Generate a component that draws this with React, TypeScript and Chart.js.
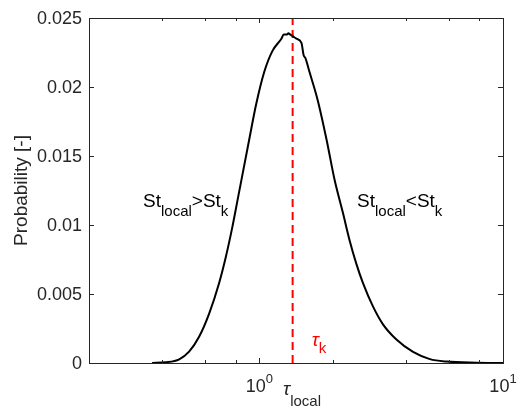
import React, { useEffect, useRef } from "react";
import { Chart, registerables } from "chart.js";

Chart.register(...registerables);

const tau = [0.363, 0.413, 0.469, 0.515, 0.566, 0.623, 0.684, 0.729, 0.776, 0.814, 0.909, 0.972, 1.048, 1.131, 1.232, 1.26, 1.3, 1.316, 1.34, 1.367, 1.42, 1.489, 1.52, 1.546, 1.606, 1.733, 1.887, 2.035, 2.202, 2.346, 2.5, 2.661, 2.926, 3.217, 3.653, 4.275, 5.01, 5.867, 7.79, 10.0];
const prob = [0.0, 0.00005, 0.00027, 0.00082, 0.0019, 0.0036, 0.0058, 0.0077, 0.0099, 0.0118, 0.0162, 0.0188, 0.0211, 0.0226, 0.0235, 0.0238, 0.0238, 0.0239, 0.0238, 0.0237, 0.0235, 0.0232, 0.0223, 0.0221, 0.0211, 0.0191, 0.0162, 0.0133, 0.0109, 0.0089, 0.0072, 0.0058, 0.0041, 0.0028, 0.0017, 0.0008, 0.00028, 0.0001, 0.00002, 0.0];
const tauK = 1.37;
const xMin = 0.2;
const xMax = 10;
const yMin = 0;
const yMax = 0.025;
const yStep = 0.005;
const yTickLabels = ["0", "0.005", "0.01", "0.015", "0.02", "0.025"];

const FONT = '"Liberation Sans", Arial, Helvetica, sans-serif';
const AXIS_COLOR = "#262626";

type Run = { t: string; size: number; dy: number; italic?: boolean };

function drawRuns(ctx: CanvasRenderingContext2D, runs: Run[], x: number, y: number, color: string, align: "left" | "center" = "left") {
  ctx.save();
  ctx.fillStyle = color;
  ctx.textBaseline = "alphabetic";
  ctx.textAlign = "left";
  let total = 0;
  for (const r of runs) {
    ctx.font = `${r.italic ? "italic " : ""}${r.size}px ${FONT}`;
    total += ctx.measureText(r.t).width;
  }
  let cx = align === "center" ? x - total / 2 : x;
  for (const r of runs) {
    ctx.font = `${r.italic ? "italic " : ""}${r.size}px ${FONT}`;
    ctx.fillText(r.t, cx, y + r.dy);
    cx += ctx.measureText(r.t).width;
  }
  ctx.restore();
}

const decorPlugin = {
  id: "decor",
  afterDatasetsDraw(chart: any) {
    const ctx: CanvasRenderingContext2D = chart.ctx;
    const { left, right, top, bottom } = chart.chartArea;
    const xs = chart.scales.x;
    const ys = chart.scales.y;
    ctx.save();
    ctx.strokeStyle = AXIS_COLOR;
    ctx.lineWidth = 1;
    ctx.strokeRect(Math.round(left) + 0.5, Math.round(top) + 0.5, Math.round(right - left), Math.round(bottom - top));
    ctx.beginPath();
    for (const t of xs.ticks) {
      const v = t.value;
      const lg = Math.log10(v);
      const major = Math.abs(lg - Math.round(lg)) < 1e-9;
      const len = major ? 5 : 3;
      const px = Math.round(xs.getPixelForValue(v)) + 0.5;
      ctx.moveTo(px, bottom);
      ctx.lineTo(px, bottom - len);
      ctx.moveTo(px, top);
      ctx.lineTo(px, top + len);
    }
    for (const t of ys.ticks) {
      const py = Math.round(ys.getPixelForValue(t.value)) + 0.5;
      ctx.moveTo(left, py);
      ctx.lineTo(left + 5, py);
      ctx.moveTo(right, py);
      ctx.lineTo(right - 5, py);
    }
    ctx.stroke();
    ctx.restore();

    ctx.save();
    ctx.fillStyle = AXIS_COLOR;
    ctx.font = `18px ${FONT}`;
    ctx.textAlign = "right";
    ctx.textBaseline = "middle";
    ys.ticks.forEach((t: any, i: number) => {
      const lab = yTickLabels[i] ?? String(t.value);
      ctx.fillText(lab, left - 7, ys.getPixelForValue(t.value) + 1);
    });
    ctx.restore();

    for (const t of xs.ticks) {
      const lg = Math.log10(t.value);
      if (Math.abs(lg - Math.round(lg)) < 1e-9) {
        const px = xs.getPixelForValue(t.value);
        drawRuns(ctx, [
          { t: "10", size: 18, dy: 0 },
          { t: String(Math.round(lg)), size: 13, dy: -9 },
        ], px, bottom + 29, AXIS_COLOR, "center");
      }
    }

    drawRuns(ctx, [
      { t: "τ", size: 19, dy: 0, italic: true },
      { t: "local", size: 15, dy: 11 },
    ], (left + right) / 2 + 6, bottom + 32, AXIS_COLOR, "center");

    ctx.save();
    ctx.translate(left - 67, (top + bottom) / 2);
    ctx.rotate(-Math.PI / 2);
    ctx.fillStyle = AXIS_COLOR;
    ctx.font = `19px ${FONT}`;
    ctx.textAlign = "center";
    ctx.textBaseline = "middle";
    ctx.fillText("Probability [-]", 0, 0);
    ctx.restore();

    drawRuns(ctx, [
      { t: "St", size: 19, dy: 0 },
      { t: "local", size: 15, dy: 9 },
      { t: ">St", size: 19, dy: 0 },
      { t: "k", size: 15, dy: 9 },
    ], 143, ys.getPixelForValue(0.0113), "#000000");
    drawRuns(ctx, [
      { t: "St", size: 19, dy: 0 },
      { t: "local", size: 15, dy: 9 },
      { t: "<St", size: 19, dy: 0 },
      { t: "k", size: 15, dy: 9 },
    ], 357, ys.getPixelForValue(0.0113), "#000000");
    drawRuns(ctx, [
      { t: "τ", size: 19, dy: 0, italic: true },
      { t: "k", size: 15, dy: 7 },
    ], xs.getPixelForValue(tauK) + 19, ys.getPixelForValue(0.0012), "#ff0000");
  },
};

export default function App() {
  const ref = useRef<HTMLCanvasElement | null>(null);
  useEffect(() => {
    if (!ref.current) return;
    const chart = new Chart(ref.current, {
      type: "line",
      data: {
        datasets: [
          {
            data: tau.map((t, i) => ({ x: t, y: prob[i] })),
            borderColor: "#000000",
            borderWidth: 2,
            pointRadius: 0,
            cubicInterpolationMode: "monotone",
            fill: false,
          },
          {
            data: [
              { x: tauK, y: yMin },
              { x: tauK, y: yMax },
            ],
            borderColor: "#ff0000",
            borderWidth: 2,
            borderDash: [8, 5],
            pointRadius: 0,
            fill: false,
          },
        ],
      },
      options: {
        animation: false,
        responsive: false,
        maintainAspectRatio: false,
        layout: { padding: { left: 89, top: 18, right: 14, bottom: 46 } },
        plugins: { legend: { display: false }, tooltip: { enabled: false } },
        scales: {
          x: { type: "logarithmic", min: xMin, max: xMax, display: false },
          y: { type: "linear", min: yMin, max: yMax, display: false, ticks: { stepSize: yStep } },
        },
      },
      plugins: [decorPlugin],
    });
    return () => chart.destroy();
  }, []);
  return (
    <div style={{ position: "absolute", left: 0, top: 0, width: 517, height: 409, background: "#fff" }}>
      <canvas ref={ref} width={517} height={409} />
    </div>
  );
}
